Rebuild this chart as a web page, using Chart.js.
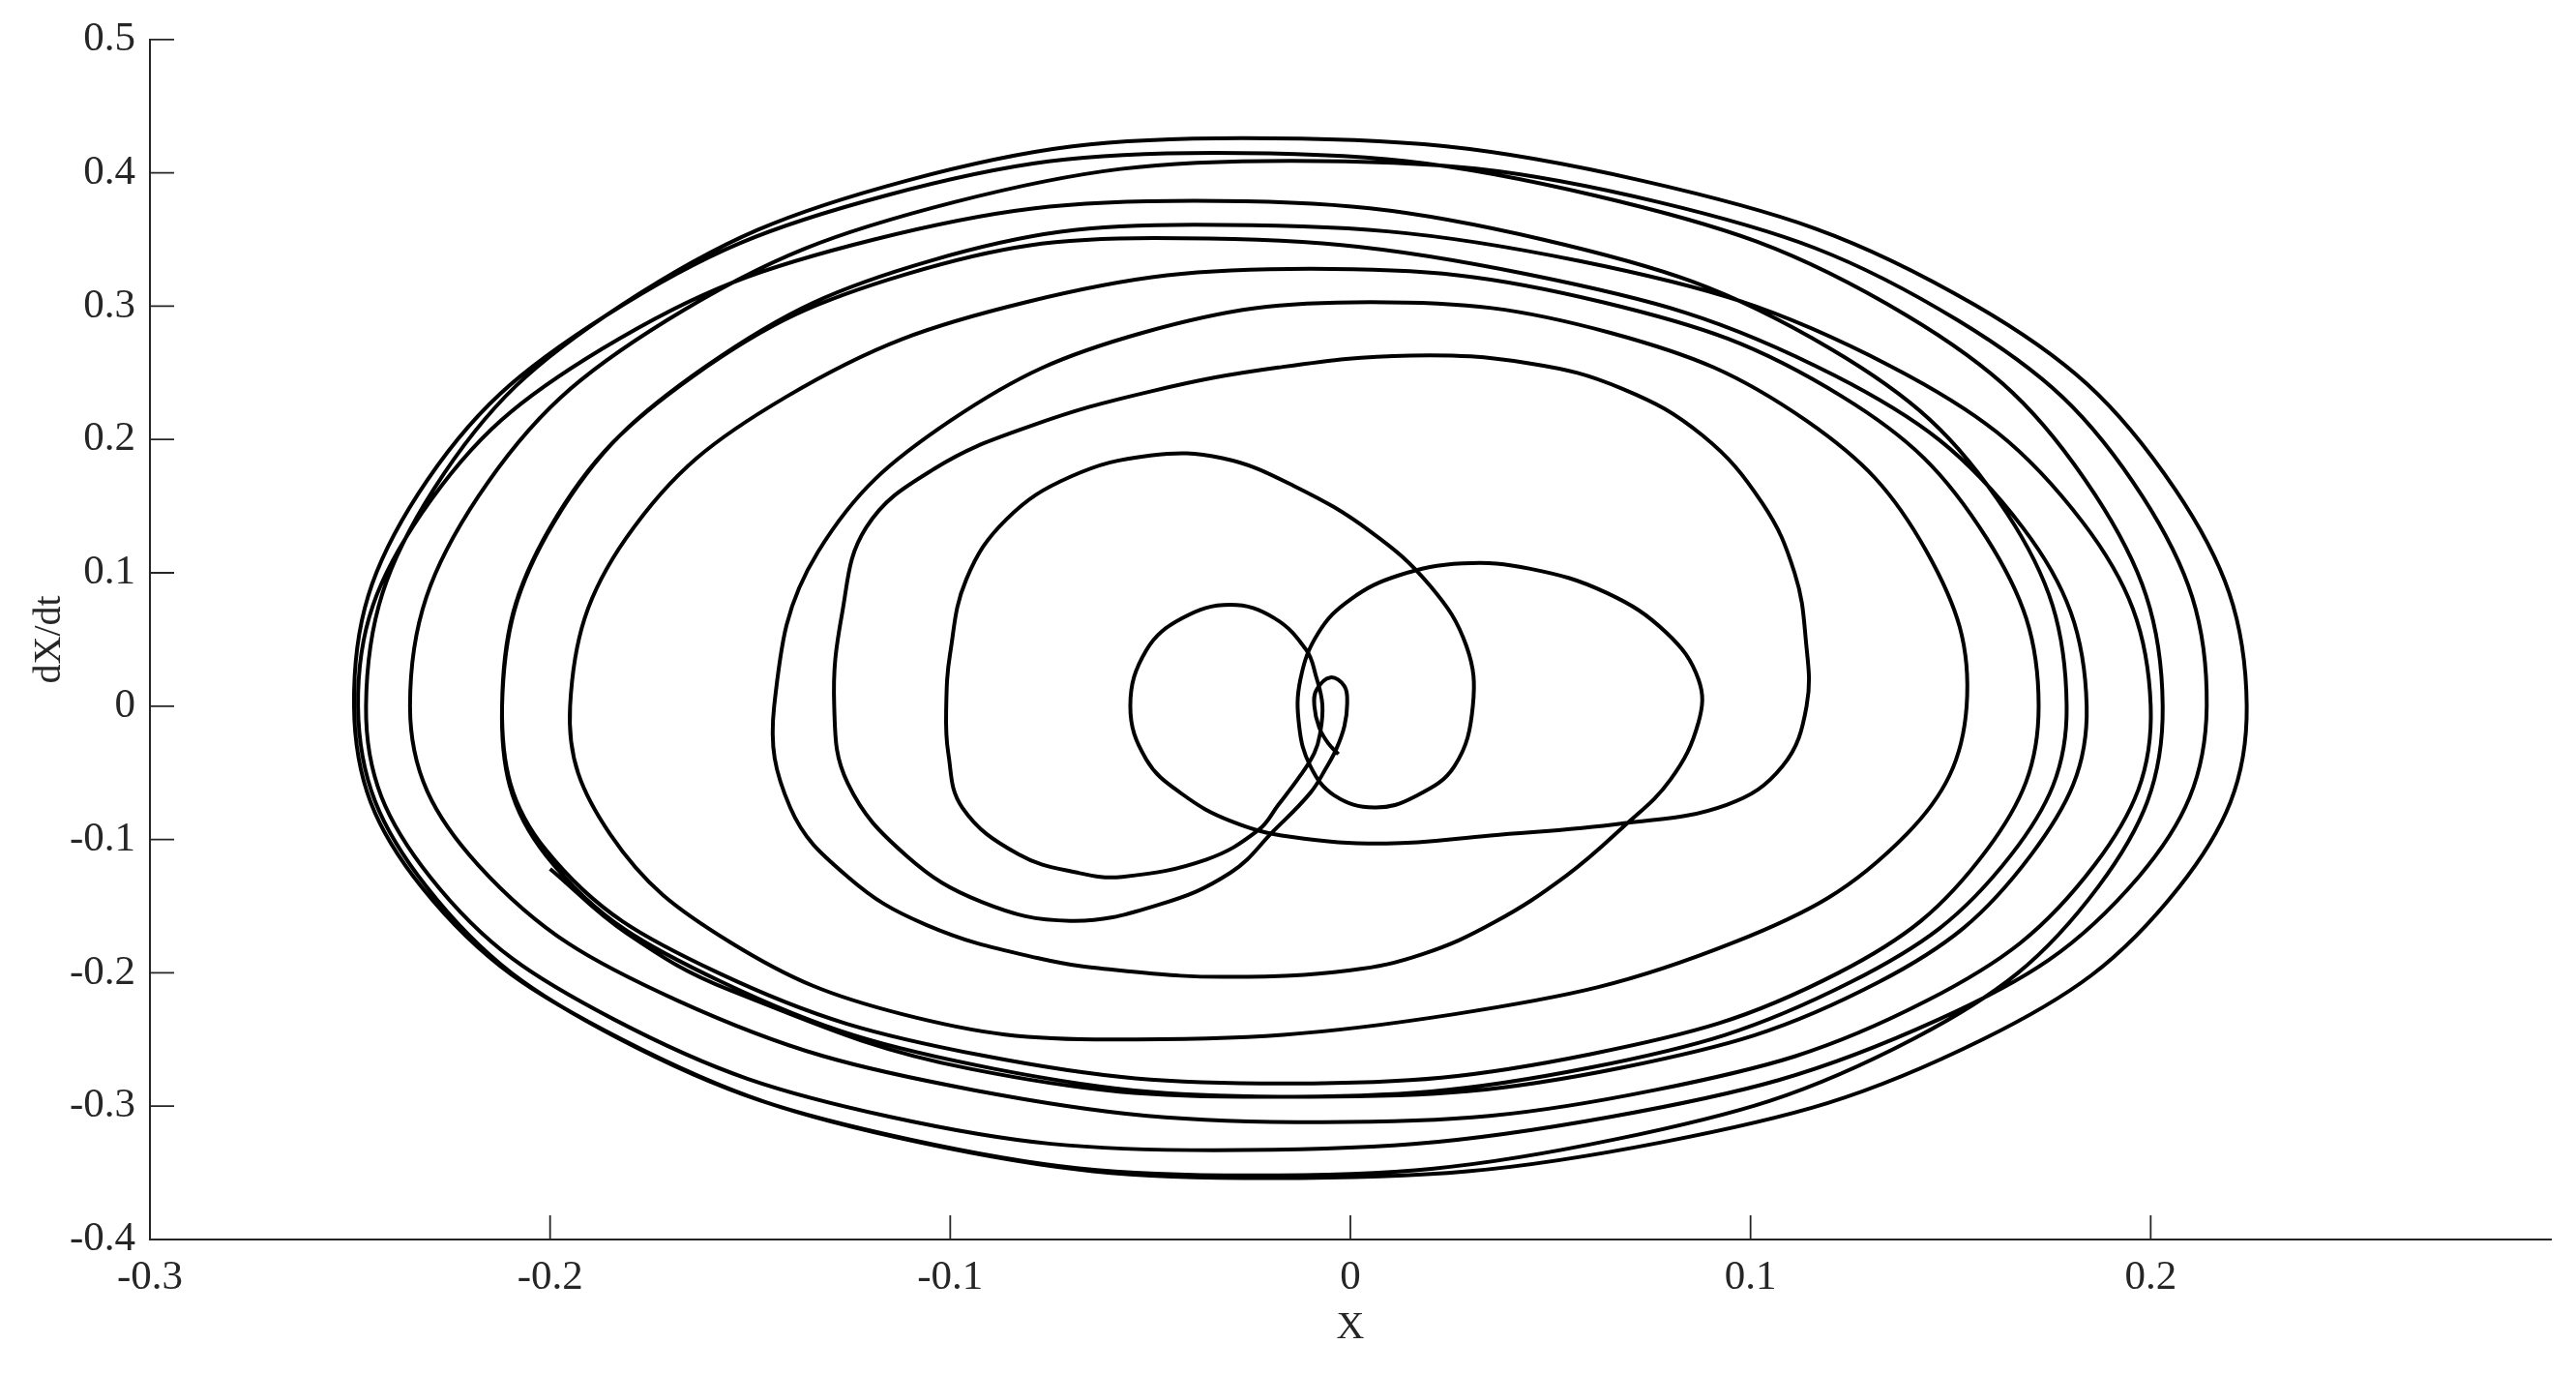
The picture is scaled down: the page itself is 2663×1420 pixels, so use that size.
<!DOCTYPE html>
<html>
<head>
<meta charset="utf-8">
<script src="https://cdn.jsdelivr.net/npm/chart.js@4.4.1/dist/chart.umd.min.js"></script>
<style>
  html, body { margin: 0; padding: 0; background: #fff; }
</style>
</head>
<body>
<canvas id="phase" width="2663" height="1420"></canvas>
<script>
// tick values of the two axes
const xTicks = [-0.3, -0.2, -0.1, 0, 0.1, 0.2];
const yTicks = [-0.4, -0.3, -0.2, -0.1, 0, 0.1, 0.2, 0.3, 0.4, 0.5];

// trajectory, [X, dX/dt], in time order
const startLoop = [[-0.003,-0.036],[-0.0055,-0.028],[-0.0078,-0.016],[-0.009,0.0],[-0.0085,0.012],[-0.005,0.0215],
  [-0.0015,0.015],[-0.0008,0.002],[-0.0015,-0.015],[-0.0035,-0.032],[-0.006,-0.046],[-0.010,-0.065],
  [-0.019,-0.093],[-0.030,-0.125],[-0.048,-0.149],[-0.070,-0.161],[-0.092,-0.147],[-0.111,-0.112],
  [-0.1256,-0.058],[-0.129,0.0]];
const turn1 = [[-0.127,0.07],[-0.121,0.134],[-0.104,0.178],[-0.080,0.210],[-0.050,0.236],[-0.018,0.254],
  [0.015,0.263],[0.045,0.257],[0.068,0.238],[0.088,0.203],[0.103,0.152],[0.111,0.10],
  [0.1138,0.05],[0.114,0.0],[0.108,-0.045],[0.094,-0.074],[0.068,-0.088],[0.035,-0.097],[0.009,-0.103],
  [-0.015,-0.098],[-0.03,-0.086],[-0.042,-0.066],[-0.051,-0.04],[-0.055,0.0]];
const turn2 = [[-0.051,0.042],[-0.042,0.066],[-0.030,0.076],[-0.019,0.066],[-0.011,0.042],[-0.0086,0.0225],
  [-0.007,0.001],[-0.0076,-0.021],[-0.009,-0.035],[-0.0125,-0.052],[-0.018,-0.074],[-0.023,-0.093],
  [-0.036,-0.115],[-0.057,-0.128],[-0.068,-0.125],[-0.083,-0.111],[-0.097,-0.076],[-0.1005,-0.035],[-0.101,0.0]];
const turn3 = [[-0.100,0.04],[-0.096,0.095],[-0.086,0.14],[-0.070,0.172],[-0.050,0.188],[-0.032,0.186],
  [-0.014,0.165],[0.005,0.131],[0.020,0.09],[0.029,0.045],[0.0306,0.0],[0.026,-0.045],[0.016,-0.068],
  [0.006,-0.076],[-0.004,-0.067],[-0.010,-0.045],[-0.0128,-0.015],[-0.0125,0.02]];
const turn4 = [[-0.008,0.055],[0.0,0.08],[0.012,0.098],[0.028,0.107],[0.045,0.103],[0.064,0.085],
  [0.079,0.055],[0.087,0.02],[0.087,-0.012],[0.080,-0.055],[0.068,-0.091],[0.054,-0.127],[0.036,-0.162],
  [0.018,-0.186],[0.0,-0.198],[-0.03,-0.203],[-0.055,-0.199],[-0.078,-0.189],[-0.106,-0.164],
  [-0.1256,-0.128],[-0.140,-0.076],[-0.144,0.0]];
const turn5 = [[-0.133,0.116],[-0.100,0.214],[-0.052,0.280],[0.005,0.303],[0.065,0.280],[0.114,0.214],
  [0.144,0.116],[0.154,0.0],[0.139,-0.096],[0.096,-0.177],[0.026,-0.231],[-0.06,-0.25],
  [-0.112,-0.231],[-0.155,-0.177],[-0.185,-0.096],[-0.195,0.0]];
const turn6 = [[-0.181,0.126],[-0.141,0.232],[-0.081,0.303],[-0.01,0.328],[0.063,0.303],[0.123,0.232],
  [0.159,0.126],[0.172,0.0],[0.159,-0.108],[0.122,-0.200],[0.060,-0.261],[-0.015,-0.283],
  [-0.092,-0.262],[-0.158,-0.200],[-0.201,-0.108],[-0.212,0.0]];
const turn7 = [[-0.200,0.134],[-0.164,0.248],[-0.111,0.324],[-0.049,0.351],[0.044,0.324],[0.121,0.248],
  [0.168,0.134],[0.184,0.0],[0.170,-0.112],[0.132,-0.207],[0.068,-0.271],[-0.01,-0.293],
  [-0.089,-0.272],[-0.157,-0.207],[-0.201,-0.112],[-0.212,0.0]];
const turn8 = [[-0.199,0.138],[-0.161,0.255],[-0.105,0.334],[-0.039,0.361],[0.057,0.334],[0.135,0.255],
  [0.183,0.138],[0.200,0.0],[0.186,-0.119],[0.144,-0.221],[0.076,-0.288],[-0.007,-0.312],
  [-0.094,-0.288],[-0.168,-0.221],[-0.218,-0.119],[-0.235,0.0]];
const turn9 = [[-0.218,0.157],[-0.171,0.289],[-0.099,0.378],[-0.015,0.409],[0.077,0.378],[0.152,0.289],
  [0.198,0.157],[0.214,0.0],[0.197,-0.128],[0.147,-0.235],[0.065,-0.308],[-0.034,-0.333],
  [-0.115,-0.308],[-0.184,-0.235],[-0.230,-0.128],[-0.246,0.0]];
const turn10 = [[-0.229,0.163],[-0.182,0.301],[-0.111,0.394],[-0.027,0.426],[0.073,0.394],[0.156,0.301],
  [0.206,0.163],[0.224,0.0],[0.207,-0.136],[0.158,-0.250],[0.078,-0.327],[-0.02,-0.354],
  [-0.108,-0.327],[-0.182,-0.250],[-0.232,-0.136],[-0.249,0.0]];
const turn11 = [[-0.233,0.159],[-0.186,0.293],[-0.116,0.383],[-0.034,0.415],[0.061,0.383],[0.139,0.293],
  [0.186,0.159],[0.203,0.0],[0.187,-0.135],[0.141,-0.249],[0.066,-0.325],[-0.025,-0.352],
  [-0.110,-0.325],[-0.183,-0.249],[-0.231,-0.135],[-0.248,0.0]];
const turn12 = [[-0.232,0.145],[-0.187,0.268],[-0.119,0.350],[-0.039,0.379],[0.048,0.350],[0.120,0.268],
  [0.164,0.145],[0.179,0.0],[0.165,-0.112],[0.125,-0.207],[0.060,-0.271],[-0.02,-0.293],
  [-0.095,-0.272],[-0.155,-0.213],[-0.181,-0.170],[-0.2,-0.122]];

const path = [].concat(startLoop, turn1, turn2, turn3, turn4, turn5, turn6,
                       turn7, turn8, turn9, turn10, turn11, turn12)
               .map(p => ({ x: p[0], y: p[1] }));

const axisColor = '#262626';
const tickFont = { family: 'Liberation Serif', size: 43 };
const titleFont = { family: 'Liberation Serif', size: 40 };
const fmt = v => String(Math.round(v * 10) / 10);

// MATLAB style ticks pointing into the plot
const inwardTicks = {
  id: 'inwardTicks',
  afterDraw(chart) {
    const { ctx, chartArea, scales } = chart;
    ctx.save();
    ctx.strokeStyle = axisColor;
    ctx.lineWidth = 1.8;
    ctx.beginPath();
    scales.x.ticks.forEach(t => {
      const px = scales.x.getPixelForValue(t.value);
      ctx.moveTo(px, chartArea.bottom);
      ctx.lineTo(px, chartArea.bottom - 25);
    });
    scales.y.ticks.forEach(t => {
      const py = scales.y.getPixelForValue(t.value);
      ctx.moveTo(chartArea.left, py);
      ctx.lineTo(chartArea.left + 25, py);
    });
    ctx.stroke();
    ctx.restore();
  }
};

new Chart(document.getElementById('phase'), {
  type: 'scatter',
  data: {
    datasets: [{
      data: path,
      showLine: true,
      borderColor: '#000',
      borderWidth: 4,
      pointRadius: 0,
      tension: 0.4,
      fill: false
    }]
  },
  options: {
    responsive: false,
    animation: false,
    layout: { padding: { top: 36, right: 26, left: 0, bottom: 0 } },
    plugins: { legend: { display: false }, tooltip: { enabled: false } },
    scales: {
      x: {
        type: 'linear', min: -0.3, max: 0.3,
        afterBuildTicks: s => { s.ticks = xTicks.map(v => ({ value: v })); },
        afterFit: s => { s.height = 139; },
        ticks: { font: tickFont, color: axisColor, padding: 14, maxRotation: 0, autoSkip: false, callback: fmt },
        grid: { display: false, drawTicks: false },
        border: { display: true, color: axisColor, width: 2 },
        title: { display: true, text: 'X', font: titleFont, color: axisColor, padding: { top: 0, bottom: 24 } }
      },
      y: {
        type: 'linear', min: -0.4, max: 0.5,
        afterBuildTicks: s => { s.ticks = yTicks.map(v => ({ value: v })); },
        afterFit: s => { s.width = 155; },
        ticks: { font: tickFont, color: axisColor, padding: 15, autoSkip: false, callback: fmt },
        grid: { display: false, drawTicks: false },
        border: { display: true, color: axisColor, width: 2 },
        title: { display: true, text: 'dX/dt', font: titleFont, color: axisColor, padding: { top: 27, bottom: 0 } }
      }
    }
  },
  plugins: [inwardTicks]
});
</script>
</body>
</html>
